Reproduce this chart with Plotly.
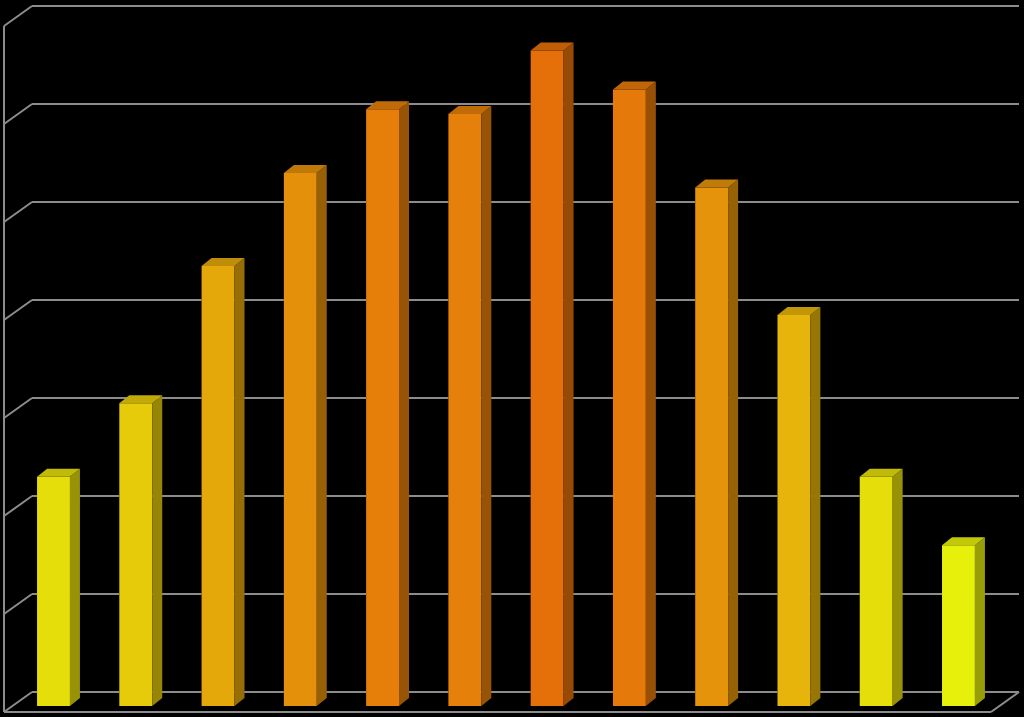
import plotly.graph_objects as go

# monthly values (no labels shown in the original)
months = ['Jan', 'Feb', 'Mar', 'Apr', 'May', 'Jun', 'Jul', 'Aug', 'Sep', 'Oct', 'Nov', 'Dec']
values = [2.34, 3.09, 4.49, 5.44, 6.09, 6.04, 6.69, 6.29, 5.29, 3.99, 2.34, 1.64]
y_ticks = [0, 1, 2, 3, 4, 5, 6, 7]

W, H = 1024, 717
grid_col = '#8c8c8c'

# pixel geometry of the fake 3d box
wall_left, wall_right = 32, 1019
wall_bottom, wall_top = 692, 6
depth_dx, depth_dy = 28, 20          # offset of the front edge vs back wall
bar_zero = 706                       # pixel row of value 0 in the bar plane
bar_first = 53.5                     # pixel column of first bar centre
bar_step = 82.27                     # px between bar centres
px_per_unit = 98.0
bar_w = 0.4
face_dx, face_dy = 10, 8             # bar side/top depth in px


def dx(p):
    return (p - bar_first) / bar_step


def dy(p):
    return (bar_zero - p) / px_per_unit


# plot area = back wall width, full page height
x_range = [dx(wall_left), dx(wall_right)]
y_range = [dy(H), dy(0)]
# back wall sits behind the bar plane, so its grid is shifted up a bit
back_shift = (bar_zero - wall_bottom) / px_per_unit
grid_vals = [t + back_shift for t in y_ticks]


def mix(c1, c2, t):
    return tuple(int(round(a + (b - a) * t)) for a, b in zip(c1, c2))


def rgb(c):
    return 'rgb(%d,%d,%d)' % c


yellow = (230, 240, 10)
orange = (229, 112, 10)
vmin, vmax = min(values), max(values)
front = []
side = []
top = []
for v in values:
    c = mix(yellow, orange, (v - vmin) / (vmax - vmin))
    front.append(rgb(c))
    side.append(rgb(tuple(int(k * 0.66) for k in c)))
    top.append(rgb(tuple(int(k * 0.84) for k in c)))

fig = go.Figure()
fig.add_trace(go.Bar(x=months, y=values, width=bar_w, marker=dict(color=front, line=dict(width=0)),
                     hoverinfo='x+y'))

shapes = []
line = dict(color=grid_col, width=2)

# back wall grid lines, broken where a bar stands in front of them
for g in grid_vals:
    start = x_range[0]
    for i, v in enumerate(values):
        if v >= g:
            shapes.append(dict(type='line', xref='x', yref='y', layer='above', line=line,
                               x0=start, x1=i - bar_w / 2, y0=g, y1=g))
            start = i + bar_w / 2
    shapes.append(dict(type='line', xref='x', yref='y', layer='above', line=line,
                       x0=start, x1=x_range[1], y0=g, y1=g))

# side wall and floor, in page pixels (nothing here overlaps a bar)
back_unit = (wall_bottom - wall_top) / 7.0


def seg(x0, y0, x1, y1):
    shapes.append(dict(type='line', xref='paper', yref='paper', layer='above', line=line,
                       x0=x0 / W, x1=x1 / W, y0=1 - y0 / H, y1=1 - y1 / H))


for t in y_ticks:
    yb = wall_bottom - t * back_unit
    seg(wall_left, yb, wall_left - depth_dx, yb + depth_dy)
seg(wall_left - depth_dx, wall_top + depth_dy, wall_left - depth_dx, wall_bottom + depth_dy)
seg(wall_left - depth_dx, wall_bottom + depth_dy, wall_right - depth_dx, wall_bottom + depth_dy)
seg(wall_right, wall_bottom, wall_right - depth_dx, wall_bottom + depth_dy)

# bar side and top faces, drawn after the grid so they cover it
ddx = face_dx / bar_step
ddy = face_dy / px_per_unit
for i, v in enumerate(values):
    xl = i - bar_w / 2
    xr = i + bar_w / 2
    shapes.append(dict(type='path', xref='x', yref='y', layer='above', line=dict(width=0),
                       fillcolor=side[i],
                       path='M %f,%f L %f,%f L %f,%f L %f,%f Z' % (xr, 0, xr, v, xr + ddx, v + ddy, xr + ddx, ddy)))
    shapes.append(dict(type='path', xref='x', yref='y', layer='above', line=dict(width=0),
                       fillcolor=top[i],
                       path='M %f,%f L %f,%f L %f,%f L %f,%f Z' % (xl, v, xr, v, xr + ddx, v + ddy, xl + ddx, v + ddy)))

fig.update_layout(
    width=W, height=H,
    margin=dict(l=0, r=0, t=0, b=0),
    paper_bgcolor='black', plot_bgcolor='black',
    showlegend=False,
    xaxis=dict(domain=[wall_left / W, wall_right / W], range=x_range, showgrid=False, zeroline=False,
               showticklabels=False, showline=False, ticks='', fixedrange=True),
    yaxis=dict(range=y_range, showgrid=False, zeroline=False, showticklabels=False, showline=False,
               ticks='', fixedrange=True),
    shapes=shapes,
)

fig.write_html("out.html", config={'displayModeBar': False},
               post_script="document.body.style.margin='0';document.body.style.background='black';")
